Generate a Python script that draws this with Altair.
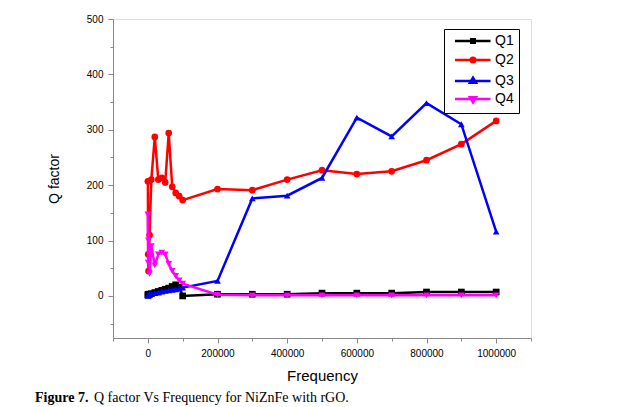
import altair as alt
import pandas as pd

# ---------------- data ----------------
freq = [100, 1000, 2000, 5000, 10000, 20000, 30000, 40000, 50000, 60000, 70000,
        80000, 90000, 100000, 200000, 300000, 400000, 500000, 600000, 700000,
        800000, 900000, 1000000]
q1 = [2, 2, 3, 3, 4, 6, 8, 10, 12, 14, 17, 20, 16, 0, 3, 3, 3, 5, 5, 5, 7, 7, 7]
q2 = [207, 75, 45, 110, 210, 287, 210, 213, 205, 294, 197, 186, 180, 173, 193, 191,
      210, 227, 220, 225, 245, 274, 316]
q3 = [0, 2, 1, 3, 4, 5, 6, 8, 9, 10, 11, 12, 13, 15, 27, 176, 181, 213, 322, 288,
      348, 310, 116]
q4 = [147, 60, 100, 40, 90, 55, 75, 78, 75, 58, 45, 36, 28, 22, 2, 1, 1, 1, 1, 1,
      1, 1, 1]

series_names = ["Q1", "Q2", "Q3", "Q4"]
series_values = [q1, q2, q3, q4]
series_colors = ["#000000", "#FF0000", "#0000FF", "#FF00FF"]
series_shapes = ["square", "circle", "triangle-up", "triangle-down"]

x_tick_values = list(range(-100000, 1100001, 100000))
y_tick_values = list(range(-50, 501, 50))
x_domain = [-100000, 1100000]
y_domain = [-76, 500]

caption_bold = "Figure 7."
caption_rest = "Q factor Vs Frequency for NiZnFe with rGO."

# legend symbols: line + marker (custom paths)
legend_paths = [
    "M-3.6,0H3.5M-0.35,-0.35H0.35V0.35H-0.35Z",
    "M-3.6,0H3.5M0.45,0A0.45,0.45,0,1,1,-0.45,0A0.45,0.45,0,1,1,0.45,0Z",
    "M-3.6,0H3.5M0,-0.65L0.6,0.35L-0.6,0.35Z",
    "M-3.6,0H3.5M0,0.65L0.6,-0.35L-0.6,-0.35Z",
]

rows = []
for name, vals in zip(series_names, series_values):
    for f, v in zip(freq, vals):
        rows.append({"freq": f, "q": v, "series": name})
df = pd.DataFrame(rows)

FONT = "Liberation Sans"

x_enc = alt.X(
    "freq:Q",
    scale=alt.Scale(domain=x_domain, nice=False, zero=False),
    axis=alt.Axis(
        values=x_tick_values,
        labelExpr="datum.value % 200000 === 0 ? format(datum.value, 'd') : ''",
        title="Frequency",
        titleFontWeight="normal", titleFontSize=15, titleFont=FONT,
        grid=False,
        tickSize={"condition": {"test": "datum.value % 200000 === 0", "value": 5}, "value": 3},
        labelPadding=5,
        titlePadding=10,
    ),
)
y_enc = alt.Y(
    "q:Q",
    scale=alt.Scale(domain=y_domain, nice=False, zero=False),
    axis=alt.Axis(
        values=y_tick_values,
        labelExpr="datum.value % 100 === 0 ? format(datum.value, 'd') : ''",
        title="Q factor",
        titleFontWeight="normal", titleFontSize=14, titleFont=FONT,
        grid=False,
        tickSize={"condition": {"test": "datum.value % 100 === 0", "value": 5}, "value": 3},
        labelPadding=5,
        titlePadding=25,
    ),
)

layers = []
for name, color, shape in zip(series_names, series_colors, series_shapes):
    base = alt.Chart(df).transform_filter(alt.datum.series == name)
    line = base.mark_line(color=color, strokeWidth=2.5).encode(x=x_enc, y=y_enc, order="freq:Q")
    pts = base.mark_point(shape=shape, filled=True, color=color, size=45, opacity=1).encode(x=x_enc, y=y_enc)
    layers += [line, pts]

leg = alt.Legend(
    title=None, orient="none", legendX=331, legendY=10, direction="vertical",
    fillColor="white", strokeColor="black", padding=5,
    labelFont=FONT, labelFontSize=14, labelColor="black",
    symbolSize=100, symbolStrokeWidth=2.5, symbolOffset=17, labelOffset=15,
    rowPadding=4,
)
legend_df = pd.DataFrame({"series": series_names})
legend_layer = alt.Chart(legend_df).transform_filter("false").mark_point(
    filled=True, opacity=1, strokeWidth=2.5, size=100
).encode(
    fill=alt.Fill("series:N", scale=alt.Scale(domain=series_names, range=series_colors), legend=leg),
    stroke=alt.Stroke("series:N", scale=alt.Scale(domain=series_names, range=series_colors), legend=leg),
    shape=alt.Shape("series:N", scale=alt.Scale(domain=series_names, range=legend_paths), legend=leg),
)

cap1 = alt.Chart(pd.DataFrame({"t": [caption_bold]})).mark_text(
    align="left", baseline="middle", font="Liberation Serif", fontSize=14,
    fontWeight="bold", color="black"
).encode(x=alt.value(-78), y=alt.value(379), text="t:N")
cap2 = alt.Chart(pd.DataFrame({"t": [caption_rest]})).mark_text(
    align="left", baseline="middle", font="Liberation Serif", fontSize=14,
    color="black"
).encode(x=alt.value(-19), y=alt.value(379), text="t:N")

chart = alt.layer(*layers, legend_layer, cap1, cap2).properties(
    width=418, height=319,
    autosize=alt.AutoSizeParams(type="none"),
    padding={"left": 113, "top": 19, "right": 106, "bottom": 69},
).configure_view(
    stroke="black", strokeWidth=1.5
).configure_axis(
    domainColor="black", domainWidth=1.5, tickColor="black", tickWidth=1,
    labelFont=FONT, labelFontSize=10, labelColor="black",
    titleFont=FONT, titleFontSize=15, titleFontWeight="normal", titleColor="black",
).configure(background="white")

chart.save("out.html", embed_options={"renderer": "svg", "actions": False})
